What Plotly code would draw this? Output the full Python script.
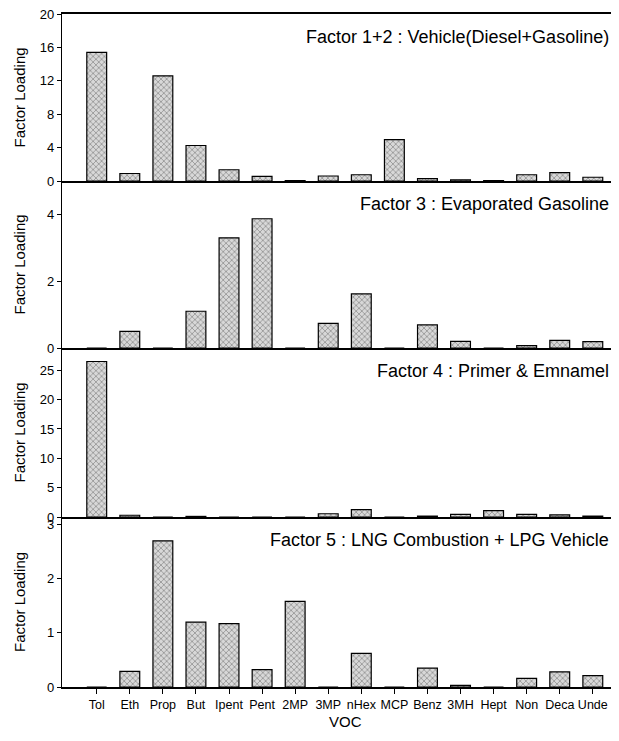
import plotly.graph_objects as go

vocs = ["Tol", "Eth", "Prop", "But", "Ipent", "Pent", "2MP", "3MP", "nHex", "MCP",
        "Benz", "3MH", "Hept", "Non", "Deca", "Unde"]

factor12 = [15.4, 0.9, 12.6, 4.25, 1.35, 0.55, 0.05, 0.6, 0.75, 4.95,
            0.28, 0.15, 0.05, 0.75, 1.0, 0.45]
factor3 = [0.0, 0.5, 0.0, 1.1, 3.3, 3.87, 0.0, 0.74, 1.62, 0.0,
           0.69, 0.2, 0.0, 0.07, 0.23, 0.19]
factor4 = [26.5, 0.3, 0.0, 0.1, 0.0, 0.0, 0.0, 0.55, 1.25, 0.0,
           0.15, 0.45, 1.1, 0.45, 0.35, 0.15]
factor5 = [0.0, 0.29, 2.7, 1.2, 1.17, 0.32, 1.58, 0.0, 0.62, 0.0,
           0.35, 0.03, 0.0, 0.16, 0.28, 0.21]

series = [factor12, factor3, factor4, factor5]
titles = ["Factor 1+2 : Vehicle(Diesel+Gasoline)",
          "Factor 3 : Evaporated Gasoline",
          "Factor 4 : Primer & Emnamel",
          "Factor 5 : LNG Combustion + LPG Vehicle"]
yranges = [[0, 20], [0, 5], [0, 28.8], [0, 3.14]]
ytickvals = [[0, 4, 8, 12, 16, 20], [0, 2, 4], [0, 5, 10, 15, 20, 25], [0, 1, 2, 3]]

# page has an 8px body margin: keep the whole figure inside the visible page
OFF = 8
RIGHT_PX = 611          # right edge of plot area on the page
W, H = RIGHT_PX - OFF, 721
L, R, T = 62 - OFF, 0, 14 - OFF
B = OFF + H - 687
plot_h = H - T - B
plot_w = W - L - R
bounds_px = [14, 181, 348, 517, 687]  # page pixels


def frac(px):
    return (687 - px) / plot_h


def xfrac(px):
    return (px - 62) / plot_w


FONT = "Liberation Sans, Arial, sans-serif"
fig = go.Figure()
for i, vals in enumerate(series):
    n = i + 1
    fig.add_trace(go.Bar(
        x=list(range(len(vocs))), y=vals, width=0.6,
        marker=dict(color="#d0d0d0", line=dict(color="black", width=1.2),
                    pattern=dict(shape="x", size=4, solidity=0.4,
                                 fgcolor="#5a5a5a", bgcolor="#d8d8d8")),
        xaxis=f"x{n}" if n > 1 else "x", yaxis=f"y{n}" if n > 1 else "y",
        showlegend=False))
    dom = [frac(bounds_px[i + 1]), frac(bounds_px[i])]
    xa = dict(domain=[0, 1], range=[-1.05, 15.55], anchor=f"y{n}" if n > 1 else "y",
              showline=True, linecolor="black", linewidth=1.5, showgrid=False,
              zeroline=False, tickvals=list(range(len(vocs))), ticktext=vocs,
              mirror=(n == 1), fixedrange=True, automargin=False)
    if n == 4:
        xa.update(ticks="outside", ticklen=5, tickcolor="black", tickangle=0,
                  ticklabeloverflow="allow",
                  tickfont=dict(family=FONT, size=12.5, color="black"))
    else:
        xa.update(showticklabels=False, ticks="")
    ya = dict(domain=dom, range=yranges[i], anchor=f"x{n}" if n > 1 else "x",
              showline=True, linecolor="black", linewidth=1.2, showgrid=False,
              zeroline=False, tickvals=ytickvals[i], ticks="outside", ticklen=4,
              tickcolor="black", tickfont=dict(family=FONT, size=13, color="black"),
              automargin=False, ticklabeloverflow="allow")
    fig.layout[f"xaxis{n}" if n > 1 else "xaxis"] = xa
    fig.layout[f"yaxis{n}" if n > 1 else "yaxis"] = ya
    fig.add_annotation(text=titles[i], xref="paper", yref="paper", x=1.0,
                       y=dom[1] - 11 / plot_h, xanchor="right", yanchor="top",
                       showarrow=False,
                       font=dict(family=FONT, size=18, color="black"))
    fig.add_annotation(text="Factor Loading", xref="paper", yref="paper",
                       x=xfrac(19), y=(dom[0] + dom[1]) / 2,
                       textangle=-90, xanchor="center", yanchor="middle",
                       showarrow=False,
                       font=dict(family=FONT, size=15, color="black"))

fig.add_annotation(text="VOC", xref="paper", yref="paper", x=xfrac(345), y=frac(721),
                   xanchor="center", yanchor="middle", showarrow=False,
                   font=dict(family=FONT, size=15, color="black"))

fig.update_layout(width=W, height=H, margin=dict(l=L, r=R, t=T, b=B, autoexpand=False),
                  plot_bgcolor="white", paper_bgcolor="white", bargap=0.4)
fig.write_html("out.html")
